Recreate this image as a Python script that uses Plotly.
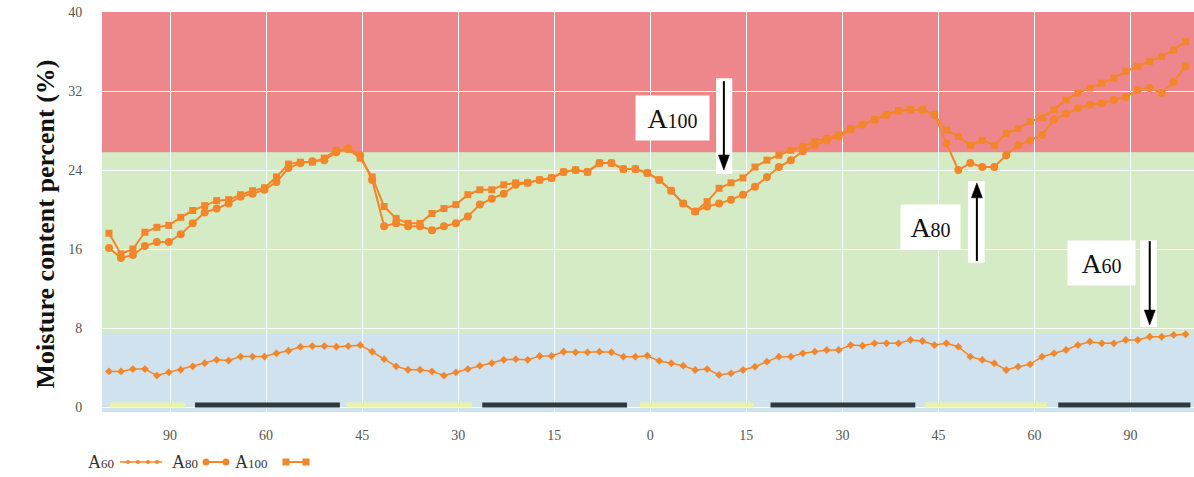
import plotly.graph_objects as go

# ---------------- data ----------------
sample = list(range(91))

a60 = [3.61, 3.61, 3.85, 3.85, 3.19, 3.52, 3.78, 4.12, 4.44, 4.78,
       4.71, 5.11, 5.11, 5.11, 5.44, 5.70, 6.10, 6.17, 6.17, 6.10,
       6.17, 6.27, 5.60, 4.85, 4.12, 3.78, 3.78, 3.61, 3.19, 3.52,
       3.85, 4.18, 4.44, 4.78, 4.85, 4.78, 5.17, 5.17, 5.60, 5.54,
       5.54, 5.61, 5.55, 5.10, 5.10, 5.20, 4.67, 4.43, 4.19, 3.75,
       3.85, 3.25, 3.42, 3.75, 4.09, 4.60, 5.10, 5.10, 5.44, 5.61,
       5.78, 5.78, 6.28, 6.21, 6.45, 6.45, 6.45, 6.79, 6.69, 6.28,
       6.45, 6.11, 5.10, 4.77, 4.43, 3.75, 4.09, 4.33, 5.10, 5.44,
       5.78, 6.28, 6.62, 6.45, 6.45, 6.79, 6.79, 7.12, 7.12, 7.30,
       7.37]

a80 = [16.1, 15.1, 15.4, 16.3, 16.7, 16.7, 17.5, 18.6, 19.7, 20.1,
       20.6, 21.3, 21.6, 22.0, 22.8, 24.2, 24.7, 24.9, 25.0, 25.8,
       26.2, 25.5, 23.0, 18.3, 18.6, 18.3, 18.3, 17.9, 18.3, 18.6,
       19.3, 20.5, 21.1, 21.6, 22.5, 22.7, 23.0, 23.2, 23.8, 24.0,
       23.8, 24.7, 24.7, 24.1, 24.1, 23.7, 23.0, 21.9, 20.6, 19.8,
       20.3, 20.6, 21.0, 21.5, 22.3, 23.3, 24.3, 25.0, 25.9, 26.5,
       27.0, 27.4, 28.1, 28.6, 29.1, 29.6, 30.0, 30.1, 30.1, 29.6,
       26.7, 24.0, 24.7, 24.3, 24.3, 25.5, 26.5, 27.0, 27.55, 29.1,
       29.7, 30.25, 30.6, 30.75, 31.1, 31.4, 32.1, 32.3, 31.8, 32.9,
       34.5]

a100 = [17.6, 15.5, 16.0, 17.7, 18.2, 18.4, 19.2, 19.9, 20.4, 20.9,
        21.0, 21.5, 21.9, 22.2, 23.3, 24.6, 24.8, 24.8, 25.2, 26.0,
        26.1, 25.2, 23.3, 20.3, 19.1, 18.6, 18.6, 19.6, 20.1, 20.5,
        21.5, 22.0, 22.0, 22.5, 22.7, 22.7, 23.0, 23.2, 23.8, 24.0,
        23.8, 24.7, 24.7, 24.1, 24.1, 23.7, 23.0, 21.9, 20.6, 19.8,
        20.8, 22.15, 22.7, 23.2, 24.3, 25.0, 25.5, 26.0, 26.4, 26.9,
        27.2, 27.55, 28.2, 28.6, 29.1, 29.6, 30.0, 30.1, 30.1, 29.6,
        28.05, 27.4, 26.5, 27.0, 26.5, 27.7, 28.2, 28.9, 29.3, 30.1,
        31.1, 31.8, 32.3, 32.8, 33.3, 34.0, 34.5, 35.0, 35.5, 36.15,
        37.0]

tick_text = ["90", "60", "45", "30", "15", "0", "15", "30", "45", "60", "90"]
y_ticks = [0, 8, 16, 24, 32, 40]

# light / dark period bars (in sample units)
light_start = [0.08, 19.9, 44.4, 68.2]
light_end = [6.35, 30.35, 53.85, 78.4]
dark_start = [7.19, 31.2, 55.3, 79.35]
dark_end = [19.3, 43.3, 67.4, 90.4]

# moisture zones
zone_dry_top = 7.5
zone_ok_top = 25.8

# ---------------- styling ----------------
ORANGE = "#F3862A"
RED_BG = "#EE878B"
GREEN_BG = "#D4EBC6"
BLUE_BG = "#D0E2EE"
FONT = "Liberation Serif"

# plot-area geometry (pixels) used for paper placement of decorations
PL, PW, PB, PH = 102, 1092, 412, 400


def px_x(px):
    return (px - PL) / PW


def px_y(py):
    return (PB - py) / PH


fig = go.Figure()

fig.add_trace(go.Scatter(
    x=sample, y=a60, mode="lines+markers", name="A60", showlegend=False,
    line=dict(color=ORANGE, width=1.5),
    marker=dict(symbol="diamond", size=6, color=ORANGE)))
fig.add_trace(go.Scatter(
    x=sample, y=a80, mode="lines+markers", name="A80", showlegend=False,
    line=dict(color=ORANGE, width=2),
    marker=dict(symbol="circle", size=8, color=ORANGE)))
fig.add_trace(go.Scatter(
    x=sample, y=a100, mode="lines+markers", name="A100", showlegend=False,
    line=dict(color=ORANGE, width=2),
    marker=dict(symbol="square", size=7, color=ORANGE)))


def segments(starts, ends):
    xs, ys = [], []
    for s, e in zip(starts, ends):
        xs += [s, e, None]
        ys += [0.2, 0.2, None]
    return xs, ys


lx, ly = segments(light_start, light_end)
dx, dy = segments(dark_start, dark_end)
fig.add_trace(go.Scatter(x=lx, y=ly, mode="lines", showlegend=False,
                         hoverinfo="skip", line=dict(color="#E9F3A6", width=5)))
fig.add_trace(go.Scatter(x=dx, y=dy, mode="lines", showlegend=False,
                         hoverinfo="skip", line=dict(color="#2C3A41", width=5)))

shapes = []
# background zones (drawn over grid, under traces)
shapes.append(dict(type="rect", xref="paper", yref="y", x0=0, x1=1,
                   y0=zone_dry_top, y1=zone_ok_top, fillcolor=GREEN_BG,
                   line_width=0, layer="between"))
shapes.append(dict(type="rect", xref="paper", yref="y", x0=0, x1=1,
                   y0=-0.5, y1=zone_dry_top, fillcolor=BLUE_BG,
                   line_width=0, layer="between"))

# white strips behind arrows
for x0, x1, y0, y1 in [(50.75, 52.1, 23.6, 33.3),
                       (71.8, 73.2, 14.6, 22.9),
                       (86.2, 87.6, 8.1, 16.9)]:
    shapes.append(dict(type="rect", xref="x", yref="y", x0=x0, x1=x1,
                       y0=y0, y1=y1, fillcolor="white", line_width=0,
                       layer="above"))

# arrows: shaft + head (head anchored at tip, sized in pixels)
for x, tail, tip in [(51.4, 33.0, 24.0), (72.55, 14.8, 22.7),
                     (87.0, 16.8, 8.3)]:
    down = tip < tail
    head_len = 15 / 9.877
    shaft_end = tip + head_len * (1 if down else -1) * 0.6
    shapes.append(dict(type="line", xref="x", yref="y", x0=x, x1=x,
                       y0=tail, y1=shaft_end,
                       line=dict(color="black", width=2), layer="above"))
    h = 15 if down else -15
    shapes.append(dict(type="path", xref="x", yref="y",
                       xsizemode="pixel", ysizemode="pixel",
                       xanchor=x, yanchor=tip,
                       path=f"M0,0 L-5.5,{h} L5.5,{h} Z",
                       fillcolor="black", line=dict(color="black", width=0.5),
                       layer="above"))

# legend swatches (text first, then symbol, as in the original)
LY = 462
shapes.append(dict(type="line", xref="paper", yref="paper",
                   x0=px_x(120), x1=px_x(162), y0=px_y(LY), y1=px_y(LY),
                   line=dict(color=ORANGE, width=1.5)))
for cx in [128, 138, 148, 157]:
    shapes.append(dict(type="circle", xref="paper", yref="paper",
                       xsizemode="pixel", ysizemode="pixel",
                       xanchor=px_x(cx), yanchor=px_y(LY),
                       x0=-2, x1=2, y0=-2, y1=2,
                       fillcolor=ORANGE, line_width=0))
shapes.append(dict(type="line", xref="paper", yref="paper",
                   x0=px_x(206), x1=px_x(226), y0=px_y(LY), y1=px_y(LY),
                   line=dict(color=ORANGE, width=2)))
for cx in [206, 226]:
    shapes.append(dict(type="circle", xref="paper", yref="paper",
                       xsizemode="pixel", ysizemode="pixel",
                       xanchor=px_x(cx), yanchor=px_y(LY),
                       x0=-3.5, x1=3.5, y0=-3.5, y1=3.5,
                       fillcolor=ORANGE, line_width=0))
shapes.append(dict(type="line", xref="paper", yref="paper",
                   x0=px_x(286), x1=px_x(306), y0=px_y(LY), y1=px_y(LY),
                   line=dict(color=ORANGE, width=2)))
for cx in [286, 306]:
    shapes.append(dict(type="rect", xref="paper", yref="paper",
                       xsizemode="pixel", ysizemode="pixel",
                       xanchor=px_x(cx), yanchor=px_y(LY),
                       x0=-3.5, x1=3.5, y0=-3.5, y1=3.5,
                       fillcolor=ORANGE, line_width=0))

annotations = [
    dict(text="<b>Moisture content percent (%)</b>", textangle=-90,
         xref="paper", yref="paper", x=px_x(28), y=px_y(224), showarrow=False,
         font=dict(family=FONT, size=26, color="#111")),
]
for label, sub, cx, cy, w in [("A", "100", 47.1, 29.3, 71),
                              ("A", "80", 68.7, 18.2, 57),
                              ("A", "60", 83.0, 14.6, 65)]:
    annotations.append(dict(
        text=f'{label}<span style="font-size:20px">{sub}</span>',
        xref="x", yref="y", x=cx, y=cy, showarrow=False,
        bgcolor="white", width=w, height=42,
        font=dict(family=FONT, size=28, color="#111")))

for sub, lx_px in [("60", 86), ("80", 170), ("100", 233)]:
    annotations.append(dict(
        text=f'A<span style="font-size:13px">{sub}</span>',
        xref="paper", yref="paper", x=px_x(lx_px), y=px_y(LY),
        xanchor="left", yanchor="middle", showarrow=False,
        font=dict(family=FONT, size=18, color="#333")))

fig.update_layout(
    width=1194, height=477,
    margin=dict(l=PL, r=0, t=12, b=477 - PB),
    paper_bgcolor="white", plot_bgcolor=RED_BG,
    font=dict(family=FONT, size=14, color="#555"),
    showlegend=False,
    shapes=shapes,
    annotations=annotations,
    xaxis=dict(range=[-0.585, 90.7],
               tickvals=[5.1 + 8.03 * k for k in range(len(tick_text))],
               ticktext=tick_text, showgrid=True, gridcolor="white",
               gridwidth=1, zeroline=False, showline=False,
               ticks="outside", ticklen=10, tickcolor="rgba(0,0,0,0)",
               tickfont=dict(family=FONT, size=14, color="#555")),
    yaxis=dict(range=[-0.5, 40], tickvals=y_ticks, showgrid=True,
               gridcolor="white", gridwidth=1, zeroline=False, showline=False,
               ticks="outside", ticklen=16, tickcolor="rgba(0,0,0,0)",
               tickfont=dict(family=FONT, size=14, color="#555")),
)

fig.write_html("out.html")
